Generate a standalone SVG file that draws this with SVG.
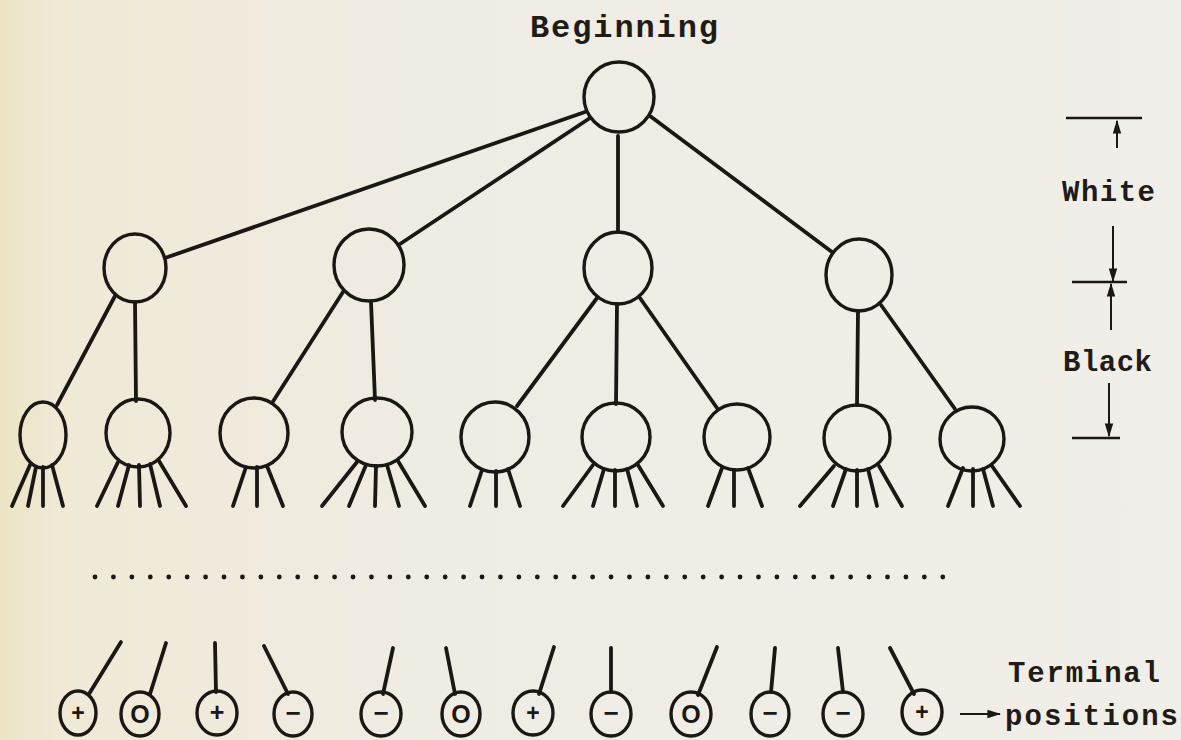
<svg xmlns="http://www.w3.org/2000/svg" width="1181" height="740" viewBox="0 0 1181 740">
  <defs>
    <linearGradient id="paper" x1="0" y1="0" x2="1" y2="0">
      <stop offset="0" stop-color="#ece4c4"/>
      <stop offset="0.05" stop-color="#efe9d6"/>
      <stop offset="0.4" stop-color="#efece4"/>
      <stop offset="1" stop-color="#f0eee8"/>
    </linearGradient>
    <marker id="head" viewBox="0 0 10 10" refX="9" refY="5" markerWidth="7" markerHeight="7" orient="auto" markerUnits="strokeWidth">
      <path d="M0,2 L10,5 L0,8 z" fill="#1a1714"/>
    </marker>
    <style>
      .node { fill: none; stroke: #1a1714; stroke-width: 3.4; }
      .edge { stroke: #1a1714; stroke-width: 3.8; stroke-linecap: round; fill: none; }
      .thin { stroke: #1a1714; stroke-width: 2; fill: none; }
      .bar { stroke: #1a1714; stroke-width: 2.6; fill: none; }
      .label { font-family: "Liberation Mono", "Courier New", monospace; font-weight: bold; fill: #1f1b17; }
      .sym { font-family: "Liberation Sans", Arial, sans-serif; font-weight: bold; fill: #1a1714; text-anchor: middle; }
    </style>
  </defs>

  <rect width="1181" height="740" fill="url(#paper)"/>

  <!-- connectors: tree edges, leaf fans, dotted continuation, terminal stems -->
  <g id="connectors">
    <!-- root to first ply -->
    <line class="edge" x1="585" y1="112" x2="165" y2="258"/>
    <line class="edge" x1="590" y1="118" x2="400" y2="244"/>
    <line class="edge" x1="618" y1="136" x2="618" y2="232"/>
    <line class="edge" x1="650" y1="116" x2="832" y2="252"/>
    <!-- first ply to second ply -->
    <line class="edge" x1="115" y1="296" x2="57" y2="405"/>
    <line class="edge" x1="135" y1="302" x2="136" y2="401"/>
    <line class="edge" x1="343" y1="292" x2="272" y2="403"/>
    <line class="edge" x1="371" y1="302" x2="375" y2="400"/>
    <line class="edge" x1="597" y1="298" x2="517" y2="406"/>
    <line class="edge" x1="617" y1="304" x2="616" y2="404"/>
    <line class="edge" x1="640" y1="298" x2="717" y2="408"/>
    <line class="edge" x1="858" y1="311" x2="857" y2="405"/>
    <line class="edge" x1="881" y1="305" x2="955" y2="409"/>
    <!-- fans below second ply -->
    <line class="edge" x1="30" y1="465" x2="12" y2="506"/>
    <line class="edge" x1="36" y1="467" x2="28" y2="506"/>
    <line class="edge" x1="43" y1="467" x2="43" y2="506"/>
    <line class="edge" x1="52" y1="465" x2="63" y2="506"/>

    <line class="edge" x1="118" y1="462" x2="97" y2="506"/>
    <line class="edge" x1="129" y1="465" x2="118" y2="506"/>
    <line class="edge" x1="139" y1="465" x2="140" y2="506"/>
    <line class="edge" x1="150" y1="464" x2="160" y2="506"/>
    <line class="edge" x1="159" y1="461" x2="186" y2="506"/>

    <line class="edge" x1="246" y1="467" x2="233" y2="506"/>
    <line class="edge" x1="257" y1="467" x2="257" y2="506"/>
    <line class="edge" x1="267" y1="466" x2="283" y2="506"/>

    <line class="edge" x1="357" y1="462" x2="322" y2="506"/>
    <line class="edge" x1="366" y1="465" x2="349" y2="506"/>
    <line class="edge" x1="376" y1="466" x2="375" y2="506"/>
    <line class="edge" x1="387" y1="465" x2="399" y2="506"/>
    <line class="edge" x1="398" y1="461" x2="425" y2="506"/>

    <line class="edge" x1="482" y1="470" x2="470" y2="506"/>
    <line class="edge" x1="496" y1="471" x2="496" y2="506"/>
    <line class="edge" x1="508" y1="469" x2="520" y2="506"/>

    <line class="edge" x1="593" y1="465" x2="563" y2="506"/>
    <line class="edge" x1="604" y1="469" x2="593" y2="506"/>
    <line class="edge" x1="615" y1="470" x2="615" y2="506"/>
    <line class="edge" x1="627" y1="469" x2="637" y2="506"/>
    <line class="edge" x1="638" y1="465" x2="663" y2="506"/>

    <line class="edge" x1="722" y1="468" x2="708" y2="506"/>
    <line class="edge" x1="734" y1="470" x2="734" y2="506"/>
    <line class="edge" x1="748" y1="468" x2="762" y2="506"/>

    <line class="edge" x1="834" y1="466" x2="800" y2="506"/>
    <line class="edge" x1="846" y1="469" x2="833" y2="506"/>
    <line class="edge" x1="857" y1="470" x2="857" y2="506"/>
    <line class="edge" x1="868" y1="469" x2="877" y2="506"/>
    <line class="edge" x1="879" y1="466" x2="902" y2="506"/>

    <line class="edge" x1="963" y1="468" x2="948" y2="506"/>
    <line class="edge" x1="973" y1="469" x2="973" y2="506"/>
    <line class="edge" x1="983" y1="469" x2="993" y2="506"/>
    <line class="edge" x1="992" y1="466" x2="1020" y2="506"/>

    <!-- omitted plies -->
    <line x1="95" y1="577" x2="943" y2="577" stroke="#1a1714" stroke-width="4.8" stroke-linecap="round" stroke-dasharray="0 18.43"/>

    <!-- stems above terminal positions -->
    <line class="edge" x1="89" y1="694" x2="121" y2="642"/>
    <line class="edge" x1="150" y1="694" x2="166" y2="643"/>
    <line class="edge" x1="216" y1="692" x2="215" y2="643"/>
    <line class="edge" x1="288" y1="694" x2="264" y2="646"/>
    <line class="edge" x1="383" y1="694" x2="393" y2="648"/>
    <line class="edge" x1="455" y1="694" x2="446" y2="648"/>
    <line class="edge" x1="539" y1="694" x2="554" y2="647"/>
    <line class="edge" x1="611" y1="692" x2="611" y2="648"/>
    <line class="edge" x1="698" y1="695" x2="717" y2="647"/>
    <line class="edge" x1="771" y1="692" x2="775" y2="648"/>
    <line class="edge" x1="843" y1="692" x2="838" y2="648"/>
    <line class="edge" x1="914" y1="694" x2="890" y2="648"/>

    <!-- pointer to the terminal label -->
    <line class="thin" x1="960" y1="714" x2="1000" y2="714" stroke-width="2.6" marker-end="url(#head)"/>
  </g>

  <!-- root -->
  <g id="root">
    <circle class="node" cx="619" cy="97" r="35"/>
  </g>

  <!-- first ply -->
  <g id="n1a"><ellipse class="node" cx="135" cy="268" rx="31" ry="34"/></g>
  <g id="n1b"><ellipse class="node" cx="369" cy="265" rx="35" ry="36"/></g>
  <g id="n1c"><ellipse class="node" cx="618" cy="268" rx="34" ry="36"/></g>
  <g id="n1d"><ellipse class="node" cx="859" cy="275" rx="33" ry="36"/></g>

  <!-- second ply -->
  <g id="n2a"><ellipse class="node" cx="43" cy="435" rx="23" ry="33"/></g>
  <g id="n2b"><ellipse class="node" cx="138" cy="433" rx="32" ry="34"/></g>
  <g id="n2c"><ellipse class="node" cx="254" cy="433" rx="34" ry="35"/></g>
  <g id="n2d"><ellipse class="node" cx="377" cy="432" rx="35" ry="34"/></g>
  <g id="n2e"><ellipse class="node" cx="495" cy="437" rx="34" ry="35"/></g>
  <g id="n2f"><ellipse class="node" cx="616" cy="437" rx="34" ry="34"/></g>
  <g id="n2g"><ellipse class="node" cx="737" cy="437" rx="33" ry="33"/></g>
  <g id="n2h"><ellipse class="node" cx="857" cy="438" rx="33" ry="33"/></g>
  <g id="n2i"><ellipse class="node" cx="972" cy="439" rx="32" ry="32"/></g>

  <!-- terminal positions -->
  <g id="t1"><ellipse class="node" cx="78" cy="713" rx="18" ry="22"/><text class="sym" x="78" y="721" font-size="23">+</text></g>
  <g id="t2"><ellipse class="node" cx="140" cy="714" rx="19" ry="22"/><text class="sym" x="140" y="723" font-size="25">O</text></g>
  <g id="t3"><ellipse class="node" cx="217" cy="713" rx="20" ry="22"/><text class="sym" x="217" y="721" font-size="25">+</text></g>
  <g id="t4"><ellipse class="node" cx="293" cy="714" rx="19" ry="22"/><text class="sym" x="293" y="722" font-size="26">−</text></g>
  <g id="t5"><ellipse class="node" cx="381" cy="714" rx="20" ry="22"/><text class="sym" x="381" y="722" font-size="26">−</text></g>
  <g id="t6"><ellipse class="node" cx="461" cy="714" rx="19" ry="22"/><text class="sym" x="461" y="723" font-size="25">O</text></g>
  <g id="t7"><ellipse class="node" cx="533" cy="713" rx="20" ry="22"/><text class="sym" x="533" y="721" font-size="23">+</text></g>
  <g id="t8"><ellipse class="node" cx="611" cy="714" rx="20" ry="22"/><text class="sym" x="611" y="722" font-size="26">−</text></g>
  <g id="t9"><ellipse class="node" cx="691" cy="714" rx="20" ry="22"/><text class="sym" x="691" y="723" font-size="25">O</text></g>
  <g id="t10"><ellipse class="node" cx="770" cy="714" rx="19" ry="22"/><text class="sym" x="770" y="722" font-size="26">−</text></g>
  <g id="t11"><ellipse class="node" cx="843" cy="714" rx="20" ry="22"/><text class="sym" x="843" y="722" font-size="26">−</text></g>
  <g id="t12"><ellipse class="node" cx="922" cy="712" rx="20" ry="22"/><text class="sym" x="922" y="720" font-size="23">+</text></g>

  <!-- labels -->
  <g id="labels">
    <text class="label" x="530" y="37" font-size="32" textLength="188" lengthAdjust="spacing">Beginning</text>
    <text class="label" x="1062" y="201" font-size="29" textLength="93" lengthAdjust="spacing">White</text>
    <text class="label" x="1063" y="371" font-size="29" textLength="89" lengthAdjust="spacing">Black</text>
    <text class="label" x="1008" y="682" font-size="29" textLength="152" lengthAdjust="spacing">Terminal</text>
    <text class="label" x="1005" y="725" font-size="29" textLength="173" lengthAdjust="spacing">positions</text>
  </g>

  <!-- ply scale -->
  <g id="ply-scale">
    <line class="bar" x1="1066" y1="118" x2="1142" y2="118"/>
    <line class="thin" x1="1117" y1="148" x2="1117" y2="121" marker-end="url(#head)"/>
    <line class="thin" x1="1113" y1="226" x2="1113" y2="281" marker-end="url(#head)"/>
    <line class="bar" x1="1072" y1="282" x2="1127" y2="282"/>
    <line class="thin" x1="1111" y1="330" x2="1111" y2="284" marker-end="url(#head)"/>
    <line class="thin" x1="1109" y1="383" x2="1109" y2="436" marker-end="url(#head)"/>
    <line class="bar" x1="1072" y1="438" x2="1120" y2="438"/>
  </g>
</svg>
